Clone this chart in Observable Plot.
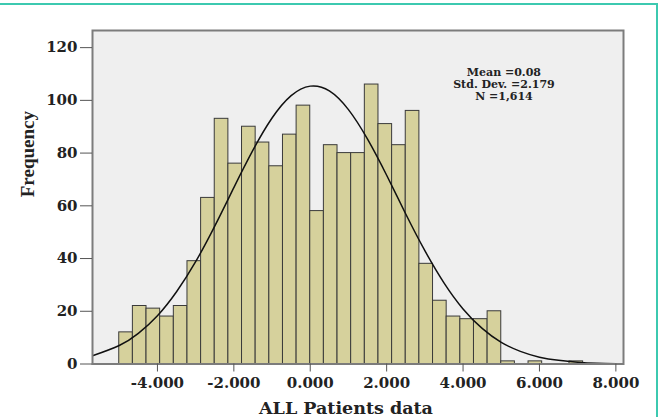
<!DOCTYPE html>
<html>
<head>
<meta charset="utf-8">
<script src="https://cdn.jsdelivr.net/npm/d3@7"></script>
<script src="https://cdn.jsdelivr.net/npm/@observablehq/plot@0.6"></script>
<style>
  html, body { margin: 0; padding: 0; background: #fff; }
  #wrap { position: relative; width: 659px; height: 417px; overflow: hidden; }
  #border { position: absolute; left: 0; top: 3px; width: 656px; height: 420px;
            border-top: 2px solid #3cc9b0; border-right: 2px solid #3cc9b0; pointer-events: none; }
</style>
</head>
<body>
<div id="wrap"><div id="chart"></div><div id="border"></div></div>
<script>
// Histogram bins (lower / upper edges) and frequencies
const binLower = [-5.000, -4.643, -4.286, -3.929, -3.571, -3.214, -2.857, -2.500, -2.143, -1.786,
                  -1.429, -1.071, -0.714, -0.357, 0.000, 0.357, 0.714, 1.071, 1.429, 1.786,
                  2.143, 2.500, 2.857, 3.214, 3.571, 3.929, 4.286, 4.643, 5.000, 5.357,
                  5.714, 6.071, 6.429, 6.786];
const binUpper = [-4.643, -4.286, -3.929, -3.571, -3.214, -2.857, -2.500, -2.143, -1.786, -1.429,
                  -1.071, -0.714, -0.357, 0.000, 0.357, 0.714, 1.071, 1.429, 1.786, 2.143,
                  2.500, 2.857, 3.214, 3.571, 3.929, 4.286, 4.643, 5.000, 5.357, 5.714,
                  6.071, 6.429, 6.786, 7.143];
const frequency = [12, 22, 21, 18, 22, 39, 63, 93, 76, 90,
                   84, 75, 87, 98, 58, 83, 80, 80, 106, 91,
                   83, 96, 38, 24, 18, 17, 17, 20, 1, 0,
                   1, 0, 0, 1];

// Normal curve
const curveX = [-5.7, -5.0, -4.5, -4.0, -3.5, -3.0, -2.5, -2.0, -1.5, -1.0, -0.5, 0.0, 0.5,
                1.0, 1.5, 2.0, 2.5, 3.0, 3.5, 4.0, 4.5, 5.0, 5.5, 6.0, 6.5, 7.0, 7.5, 8.0, 8.2];
const curveY = [3.1, 7.0, 11.6, 18.3, 27.4, 38.8, 52.3, 66.9, 81.1, 93.3, 101.8, 105.4, 103.6,
                96.5, 85.3, 71.6, 56.9, 43.0, 30.8, 20.9, 13.5, 8.2, 4.8, 2.6, 1.4, 0.7, 0.3, 0.14, 0.1];

const xTicks = [-4, -2, 0, 2, 4, 6, 8];
const yTicks = [0, 20, 40, 60, 80, 100, 120];
const statsLines = ["Mean =0.08", "Std. Dev. =2.179", "N =1,614"];
const xLabel = "ALL Patients data";
const yLabel = "Frequency";

const bins = frequency.map((f, i) => ({x1: binLower[i], x2: binUpper[i], f}));
const curve = curveX.map((x, i) => ({x, y: curveY[i]}));

const serif = "'DejaVu Serif', 'Liberation Serif', serif";
const times = "'Liberation Serif', 'DejaVu Serif', serif";

const chart = Plot.plot({
  width: 659,
  height: 417,
  marginLeft: 92,
  marginRight: 36,
  marginTop: 30,
  marginBottom: 53.5,
  style: {background: "transparent", fontFamily: serif},
  x: {domain: [-5.7, 8.2]},
  y: {domain: [0, 126.5]},
  marks: [
    Plot.frame({fill: "#efefef", stroke: null}),
    Plot.rectY(bins, {x1: "x1", x2: "x2", y: "f", fill: "#d6d19c", stroke: "#3a3a3a", strokeWidth: 1}),
    Plot.line(curve, {x: "x", y: "y", curve: "natural", stroke: "#111", strokeWidth: 1.5, clip: true}),
    Plot.frame({stroke: "#7c7c7c", strokeWidth: 2}),
    Plot.axisY({ticks: yTicks, tickSize: 12, tickPadding: 3, label: null,
                fontSize: 15, fontWeight: "bold", fontFamily: serif, fill: "#222", stroke: "#555"}),
    Plot.axisX({ticks: xTicks, tickSize: 8, tickPadding: 5, label: null,
                tickFormat: d => d.toFixed(3),
                fontSize: 15, fontWeight: "bold", fontFamily: serif, fill: "#222", stroke: "#555"}),
    Plot.text([statsLines.join("\n")], {x: 5.07, y: 106.2, lineAnchor: "middle", lineHeight: 1.12,
                fontSize: 11, fontWeight: "bold", fontFamily: serif, fill: "#222"}),
    Plot.text([yLabel], {frameAnchor: "left", rotate: -90, dx: -65,
                fontSize: 19, fontWeight: "bold", fontFamily: times, fill: "#222"}),
    Plot.text([xLabel], {frameAnchor: "bottom", dx: -12, dy: 44, lineAnchor: "middle",
                fontSize: 17.5, fontWeight: "bold", fontFamily: serif, fill: "#222"})
  ]
});
document.getElementById("chart").appendChild(chart);
</script>
</body>
</html>
